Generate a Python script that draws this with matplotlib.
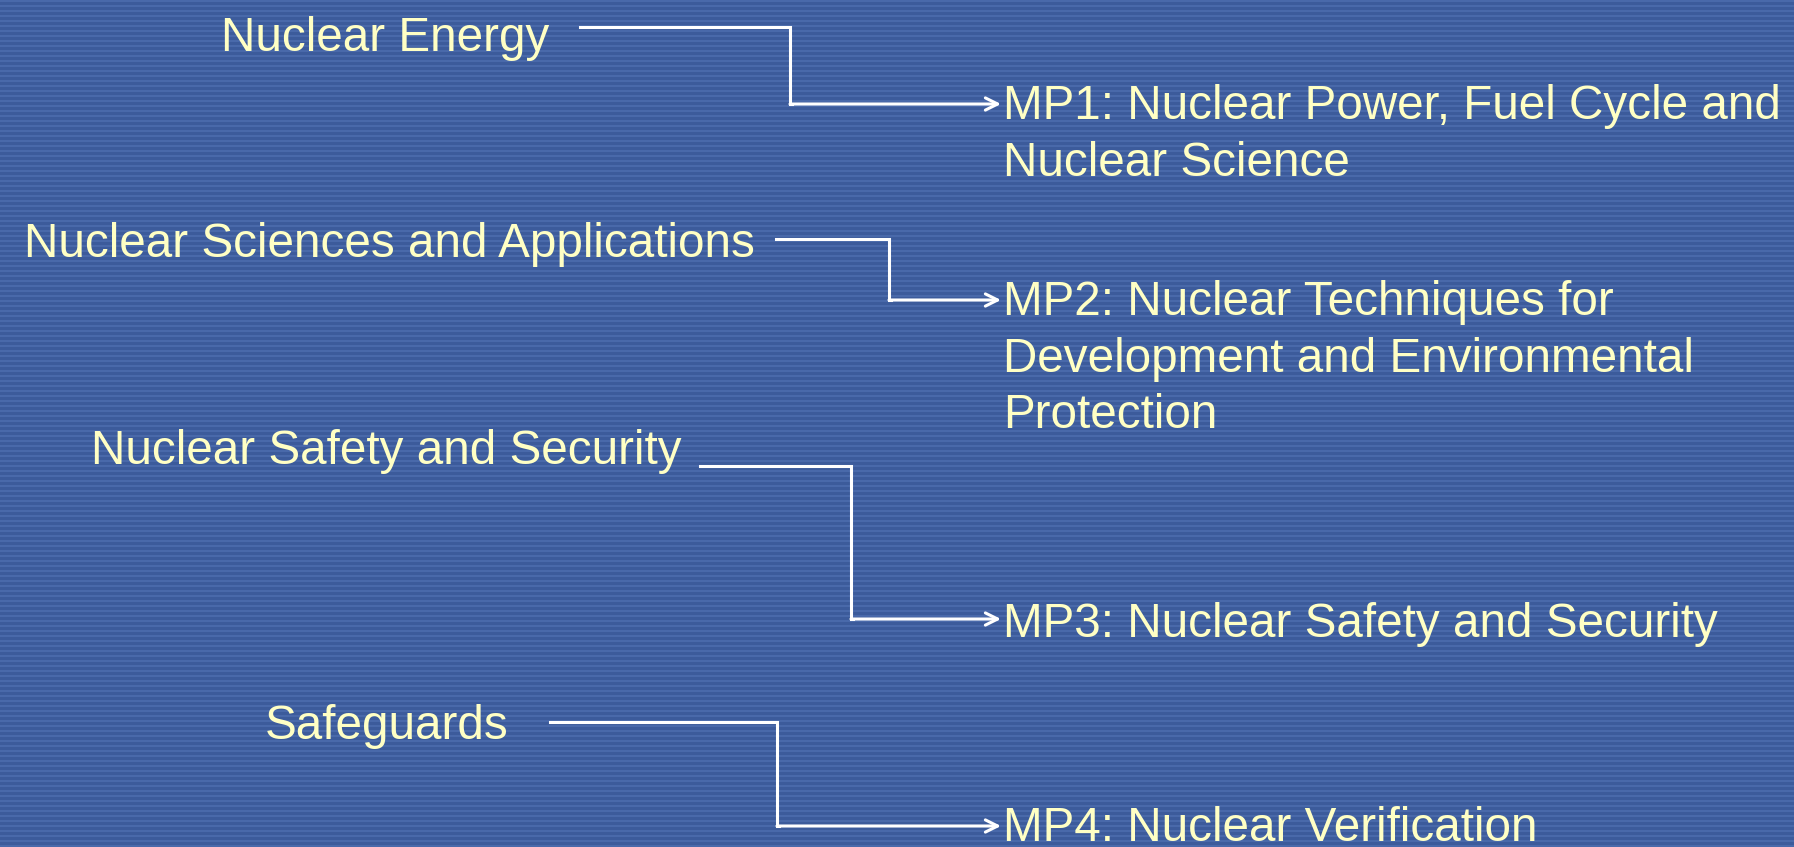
import matplotlib
matplotlib.use('Agg')
import matplotlib.pyplot as plt
import numpy as np
from matplotlib.patches import Arc

# old programme structure -> new major programmes
sources = ['Nuclear Energy', 'Nuclear Sciences and Applications',
           'Nuclear Safety and Security', 'Safeguards']
targets = [['MP1: Nuclear Power, Fuel Cycle and', 'Nuclear Science'],
           ['MP2: Nuclear Techniques for', 'Development and Environmental', 'Protection'],
           ['MP3: Nuclear Safety and Security'],
           ['MP4: Nuclear Verification']]

# layout (pixels, figure is 1794x847)
src_x = [549, 755, 682, 509]        # right edge of source text
src_base = [51, 257, 464, 739]      # baseline of source text
line_start = [580, 776, 700, 550]
line_top = [27, 239, 466, 722]
elbow_x = [790, 889, 851, 777]
line_bot = [104, 300, 619, 826]
tgt_base = [[119, 176], [315, 372, 428], [637], [841]]
tip_x = 1001
tgt_x = 1003

W, H = 1794, 847
fig = plt.figure(figsize=(W / 100, H / 100), dpi=100)
ax = fig.add_axes([0, 0, 1, 1])
ax.set_xlim(0, W)
ax.set_ylim(H, 0)
ax.axis('off')

# striped blue background
rows = np.arange(H)
dark = np.array([60, 91, 155]) / 255
light = np.array([73, 105, 170]) / 255
bg = np.where((rows % 5 < 2)[:, None], light, dark)
bg = np.repeat(bg[:, None, :], 2, axis=1)
ax.imshow(bg, extent=[0, W, H, 0], aspect='auto', interpolation='nearest', zorder=0)

txt = '#FFFFC4'
fs = 34.3
fam = ['Liberation Sans', 'DejaVu Sans']

for i, s in enumerate(sources):
    ax.text(src_x[i], src_base[i], s, ha='right', va='baseline', color=txt,
            fontsize=fs, family=fam)
    ax.plot([line_start[i], elbow_x[i], elbow_x[i], elbow_x[i] + 2],
            [line_top[i], line_top[i], line_bot[i], line_bot[i]],
            color='white', lw=2.2, solid_joinstyle='miter')
    ax.annotate('', xy=(tip_x, line_bot[i]), xytext=(elbow_x[i], line_bot[i]),
                arrowprops=dict(arrowstyle='->', color='white', lw=2.2,
                                mutation_scale=22, shrinkA=0, shrinkB=0))
    for line, yb in zip(targets[i], tgt_base[i]):
        ax.text(tgt_x, yb, line, ha='left', va='baseline', color=txt,
                fontsize=fs, family=fam)

# logo fragment in the corner
ax.add_patch(Arc((12, 855), 26, 26, theta1=20, theta2=180, color='white', lw=2))

fig.savefig('out.png', dpi=100)
